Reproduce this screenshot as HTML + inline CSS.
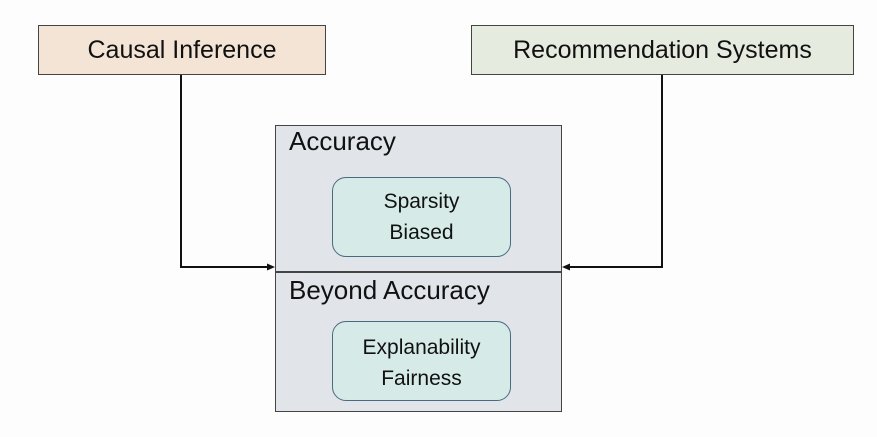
<!DOCTYPE html>
<html><head><style>
body{margin:0;width:877px;height:437px;background:#fdfdfd;position:relative;overflow:hidden;font-family:"Liberation Sans","DejaVu Sans",sans-serif;color:#111}
.b{position:absolute;box-sizing:border-box;border:1.5px solid #444}
.c{display:flex;align-items:center;justify-content:center;font-size:25px}
.i{position:absolute;box-sizing:border-box;border:1.5px solid #4a6a80;border-radius:14px;background:#d6ebe8;text-align:center;font-size:21px;line-height:31px;padding-top:8px}
</style></head><body>
<div class="b c" style="left:38px;top:25px;width:288px;height:50px;background:#f3e4d6">Causal Inference</div>
<div class="b c" style="left:471px;top:25px;width:383px;height:50px;background:#e6ebdf">Recommendation Systems</div>
<div class="b" style="left:275px;top:125px;width:287px;height:287px;background:#e1e5ea"></div>
<div style="position:absolute;left:275px;top:271px;width:287px;height:1.5px;background:#444"></div>
<div style="position:absolute;left:289px;top:126px;font-size:26px">Accuracy</div>
<div style="position:absolute;left:289px;top:275px;font-size:26px">Beyond Accuracy</div>
<div class="i" style="left:332px;top:177px;width:179px;height:80px">Sparsity<br>Biased</div>
<div class="i" style="left:332px;top:321px;width:179px;height:80px;padding-top:10px">Explanability<br>Fairness</div>
<svg style="position:absolute;left:0;top:0" width="877" height="437">
<polyline points="181,75 181,267 270,267" fill="none" stroke="#111" stroke-width="2"/>
<polygon points="275,267 267,263.5 267,270.5" fill="#111"/>
<polyline points="662,75 662,267 567,267" fill="none" stroke="#111" stroke-width="2"/>
<polygon points="562,267 570,263.5 570,270.5" fill="#111"/>
</svg>
</body></html>
